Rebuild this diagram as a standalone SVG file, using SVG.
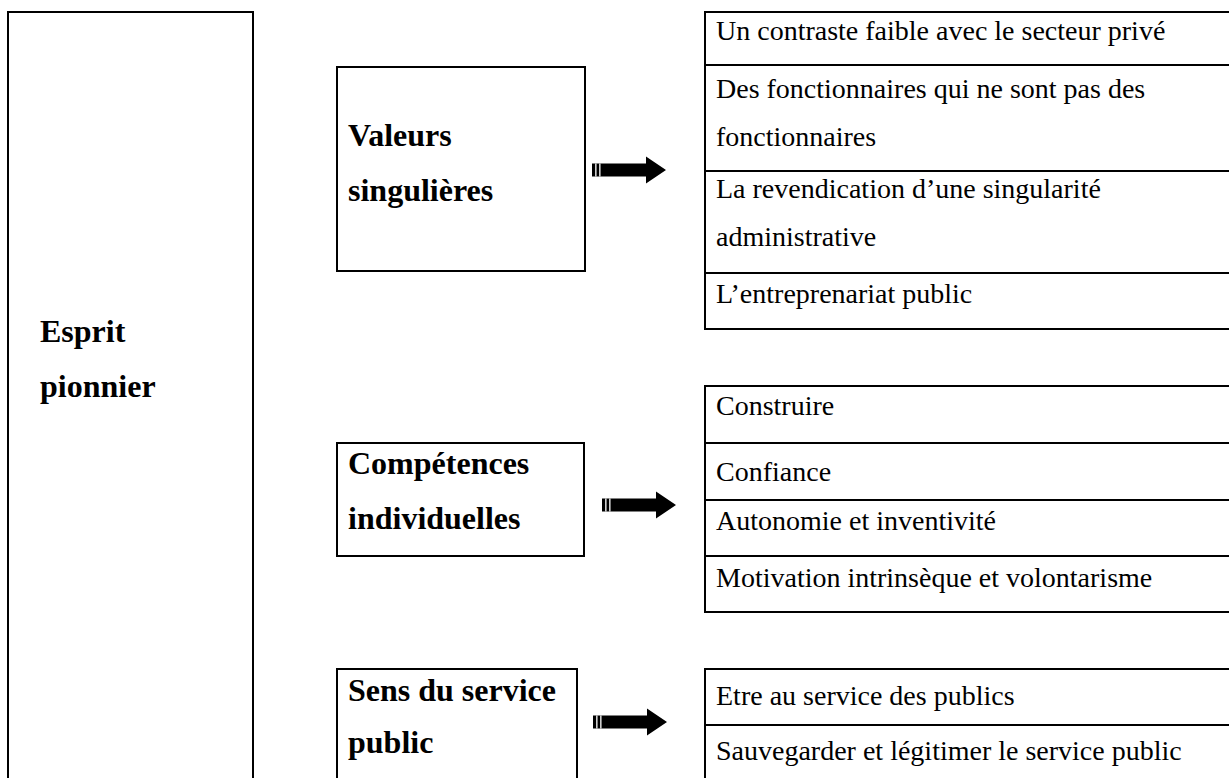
<svg xmlns="http://www.w3.org/2000/svg" width="1229" height="778" viewBox="0 0 1229 778">
<style>
.box{fill:none;stroke:#000;stroke-width:2}
.lbl{font-family:"Liberation Serif","Times New Roman",serif;font-weight:bold;font-size:32px;fill:#000}
.item{font-family:"Liberation Serif","Times New Roman",serif;font-size:28px;fill:#000}
</style>
<defs>
<g id="arrow">
<path d="M0,-6.5 H54 V-13.5 L74,0 L54,13.5 V6.5 H0 Z" fill="#000"/>
<rect x="3.2" y="-6.5" width="1.3" height="13" fill="#fff"/>
<rect x="7.2" y="-6.5" width="1.3" height="13" fill="#fff"/>
</g>
</defs>
<rect width="1229" height="778" fill="#fff"/>
<g id="esprit">
<path class="box" d="M8,790 V12 H253 V790"/>
<text class="lbl" x="40" y="342">Esprit</text>
<text class="lbl" x="40" y="397">pionnier</text>
</g>
<g id="valeurs">
<rect class="box" x="337" y="67" width="248" height="204"/>
<text class="lbl" x="348" y="146">Valeurs</text>
<text class="lbl" x="348" y="201">singulières</text>
</g>
<g id="competences">
<rect class="box" x="337" y="443" width="247" height="113"/>
<text class="lbl" x="348" y="474">Compétences</text>
<text class="lbl" x="348" y="529">individuelles</text>
</g>
<g id="sens">
<path class="box" d="M337,790 V669 H577 V790"/>
<text class="lbl" x="348" y="701">Sens du service</text>
<text class="lbl" x="348" y="753">public</text>
</g>
<g id="liste-valeurs">
<path class="box" d="M1240,12 H705 V329 H1240 M705,65 H1240 M705,171 H1240 M705,273 H1240"/>
<text class="item" x="716" y="40">Un contraste faible avec le secteur privé</text>
<text class="item" x="716" y="98">Des fonctionnaires qui ne sont pas des</text>
<text class="item" x="716" y="146">fonctionnaires</text>
<text class="item" x="716" y="198">La revendication d’une singularité</text>
<text class="item" x="716" y="246">administrative</text>
<text class="item" x="716" y="303">L’entreprenariat public</text>
</g>
<g id="liste-competences">
<path class="box" d="M1240,386 H705 V612 H1240 M705,443 H1240 M705,500 H1240 M705,556 H1240"/>
<text class="item" x="716" y="415">Construire</text>
<text class="item" x="716" y="481">Confiance</text>
<text class="item" x="716" y="530">Autonomie et inventivité</text>
<text class="item" x="716" y="587">Motivation intrinsèque et volontarisme</text>
</g>
<g id="liste-service">
<path class="box" d="M1240,669 H705 V790 M705,725 H1240"/>
<text class="item" x="716" y="705">Etre au service des publics</text>
<text class="item" x="716" y="760">Sauvegarder et légitimer le service public</text>
</g>
<g id="connectors">
<use href="#arrow" x="592" y="170"/>
<use href="#arrow" x="602" y="505"/>
<use href="#arrow" x="593" y="722"/>
</g>
</svg>
